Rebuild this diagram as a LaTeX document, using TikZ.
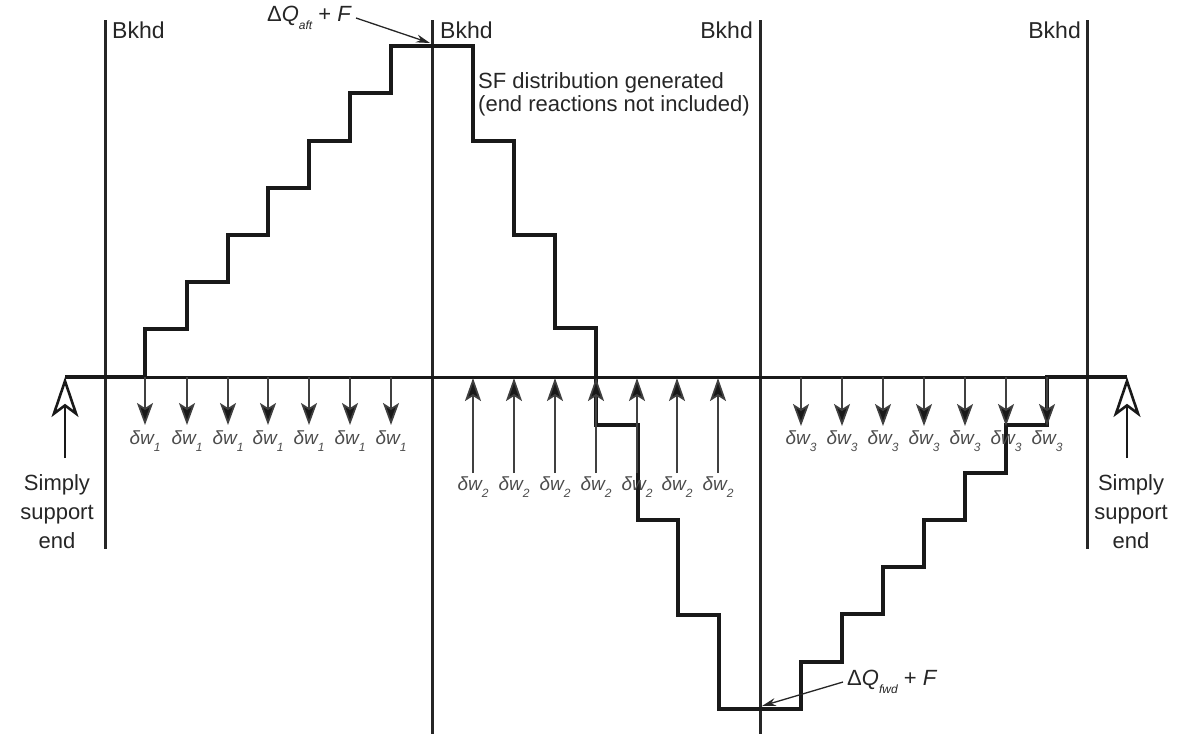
\documentclass[tikz,border=0pt]{standalone}
\usepackage{fontspec}
\setmainfont{Liberation Sans}
\usetikzlibrary{arrows.meta}
\begin{document}
\begin{tikzpicture}[x=1pt,y=-1pt,
  bulk/.style={line width=3pt, draw=black!85},
  sfline/.style={line width=3.4pt, line join=miter, draw=black!90},
  baseln/.style={line width=3pt, draw=black!90},
  load/.style={line width=1.7pt, draw=black!75, -{Stealth[length=22pt,width=16pt,inset=5pt,fill=black!90]}},
  loadup/.style={line width=1.7pt, draw=black!75, -{Stealth[length=23pt,width=16pt,inset=5pt,fill=black!90]}},
  supp/.style={line width=2.6pt, draw=black!90, -{Stealth[open,length=40pt,width=27pt,inset=10pt,fill=white]}},
  lab/.style={font=\fontsize{22}{29}\selectfont, inner sep=0pt, text=black!85},
  bklab/.style={font=\fontsize{23}{25}\selectfont, inner sep=0pt, text=black!85},
  wlab/.style={font=\fontsize{19}{20}\selectfont\itshape, inner sep=0pt, text=black!70},
  ptr/.style={line width=1.3pt, draw=black!85, -{Stealth[length=14pt,width=8pt]}}
]
\useasboundingbox (0,0) rectangle (1190,734);

% bulkheads
\coordinate (b1t) at (105,20);  \coordinate (b1b) at (105,549);
\coordinate (b2t) at (432,20);  \coordinate (b2b) at (432,734);
\coordinate (b3t) at (760,20);  \coordinate (b3b) at (760,734);
\coordinate (b4t) at (1087,20); \coordinate (b4b) at (1087,549);
\foreach \i in {1,2,3,4} \draw[bulk] (b\i t) -- (b\i b);

\node[bklab, anchor=base west] (k1) at (112,38) {Bkhd};
\node[bklab, anchor=base west] (k2) at (440,38) {Bkhd};
\node[bklab, anchor=base east] (k3) at (753,38) {Bkhd};
\node[bklab, anchor=base east] (k4) at (1081,38) {Bkhd};

% baseline
\coordinate (L) at (65,377);
\coordinate (R) at (1127,377);
\draw[baseln] (L) -- (R);

% SF stair distribution
\draw[sfline] (65,377) -- (145,377) -- (145,329) -- (187,329) -- (187,282) -- (228,282) -- (228,235) -- (268,235) -- (268,188) -- (309,188) -- (309,141) -- (350,141) -- (350,93) -- (391,93) -- (391,46) -- (473,46) -- (473,141) -- (514,141) -- (514,235) -- (555,235) -- (555,328) -- (596,328) -- (596,425) -- (638,425) -- (638,520) -- (678,520) -- (678,615) -- (719,615) -- (719,709) -- (801,709) -- (801,662) -- (842,662) -- (842,614) -- (883,614) -- (883,567) -- (924,567) -- (924,520) -- (965,520) -- (965,473) -- (1006,473) -- (1006,425) -- (1047,425) -- (1047,377) -- (1127,377);

% supports
\coordinate (sL0) at (65,458);
\coordinate (sR0) at (1127,458);
\draw[supp] (sL0) -- (L);
\draw[supp] (sR0) -- (R);
\node[lab, align=center] (simL) at (57,512) {Simply\\support\\end};
\node[lab, align=center] (simR) at (1131,512) {Simply\\support\\end};

% loads delta w1
\foreach \x [count=\n] in {145,187,228,268,309,350,391} {
  \coordinate (a1s\n) at (\x,377);
  \coordinate (a1e\n) at (\x,425);
  \draw[load] (a1s\n) -- (a1e\n);
  \node[wlab] (w1\n) at (\x,441) {δw\raisebox{-0.35em}{\fontsize{12}{12}\selectfont 1}};
}
% loads delta w2
\foreach \x [count=\n] in {473,514,555,596,637,677,718} {
  \coordinate (a2s\n) at (\x,473);
  \coordinate (a2e\n) at (\x,378);
  \draw[loadup] (a2s\n) -- (a2e\n);
  \node[wlab] (w2\n) at (\x,487) {δw\raisebox{-0.35em}{\fontsize{12}{12}\selectfont 2}};
}
% loads delta w3
\foreach \x [count=\n] in {801,842,883,924,965,1006,1047} {
  \coordinate (a3s\n) at (\x,377);
  \coordinate (a3e\n) at (\x,426);
  \draw[load] (a3s\n) -- (a3e\n);
  \node[wlab] (w3\n) at (\x,441) {δw\raisebox{-0.35em}{\fontsize{12}{12}\selectfont 3}};
}

% annotations
\node[lab, font=\fontsize{22}{24}\selectfont, anchor=east] (qa) at (352,18) {Δ\textit{Q}\raisebox{-0.35em}{\fontsize{12}{12}\selectfont\itshape aft} + \textit{F}};
\coordinate (qat) at (430,43);
\draw[ptr] ([xshift=4pt]qa.east) -- (qat);

\node[lab, font=\fontsize{22}{24}\selectfont, anchor=west] (qf) at (847,682) {Δ\textit{Q}\raisebox{-0.35em}{\fontsize{12}{12}\selectfont\itshape fwd} + \textit{F}};
\coordinate (qft) at (762,706);
\draw[ptr] ([xshift=-4pt]qf.west) -- (qft);

\node[lab, font=\fontsize{22}{23}\selectfont, align=left, anchor=north west] (sf) at (478,72) {SF distribution generated\\(end reactions not included)};

\end{tikzpicture}
\end{document}
